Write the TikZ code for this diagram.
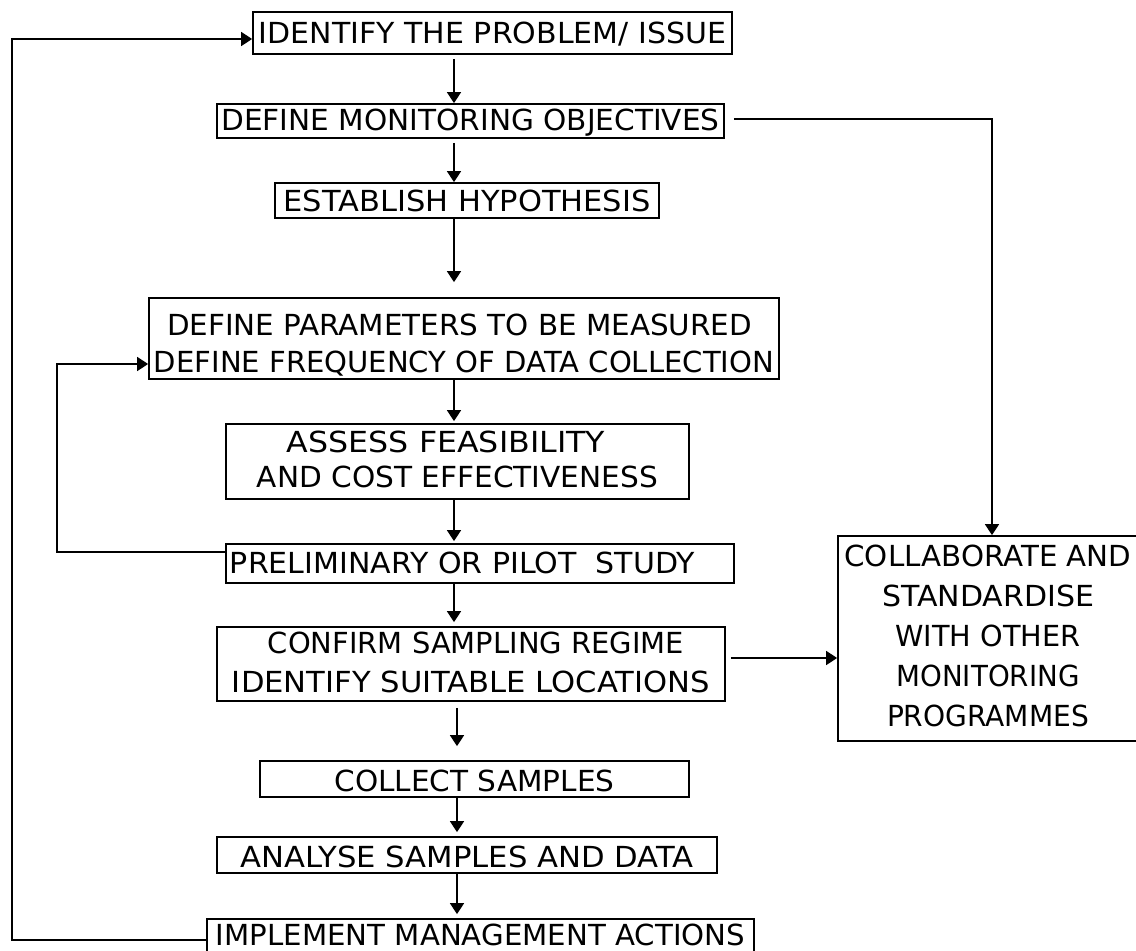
\documentclass[tikz,border=0pt]{standalone}
\usepackage{fontspec}
\setmainfont{DejaVu Sans}
\usepackage{graphicx}
\usetikzlibrary{arrows.meta}
\newcommand\fitw[2]{\resizebox{#1}{\height}{#2}}
\newcommand\stk[2]{\vtop{\baselineskip=#1\relax\lineskiplimit=-100pt\halign{\hfil##\hfil\cr#2\crcr}}}
\begin{document}
\begin{tikzpicture}[x=1pt,y=-1pt,
  box/.style={draw, line width=1.8pt, inner sep=0pt, font=\fontsize{29}{34}\selectfont},
  conn/.style={line width=1.8pt, -{Triangle[width=14pt,length=11pt]}}]
\fill[white] (0,0) rectangle (1136,951);
\useasboundingbox (0,0) rectangle (1136,951);

\node[box, minimum width=479pt, minimum height=42pt, text height=20pt, text depth=0pt] (b1) at (492.5,33) {\fitw{467pt}{IDENTIFY THE PROBLEM/ ISSUE}};
\node[box, minimum width=507pt, minimum height=34pt, text height=18pt, text depth=0pt] (b2) at (470.5,121) {\fitw{498pt}{DEFINE MONITORING OBJECTIVES}};
\node[box, minimum width=384pt, minimum height=35pt, text height=21pt, text depth=0pt] (b3) at (467,200.5) {\fitw{367pt}{ESTABLISH HYPOTHESIS}};
\node[box, minimum width=630pt, minimum height=81pt, text height=0pt, text depth=7pt] (b4) at (464,338.5) {\stk{37pt}{\fitw{585pt}{DEFINE PARAMETERS TO BE MEASURED}\kern9pt\cr\fitw{620pt}{DEFINE FREQUENCY OF DATA COLLECTION}}};
\node[box, minimum width=463pt, minimum height=75pt, text height=0pt, text depth=18pt] (b5) at (457.5,461.5) {\stk{34.5pt}{\fitw{318pt}{ASSESS FEASIBILITY}\kern23pt\cr\fitw{401pt}{AND COST EFFECTIVENESS}}};
\node[box, minimum width=508pt, minimum height=39pt, text height=19pt, text depth=0pt] (b6) at (480,563.5) {\fitw{465pt}{PRELIMINARY OR PILOT~ STUDY}\kern35pt};
\node[box, minimum width=508pt, minimum height=74pt, text height=0pt, text depth=22pt] (b7) at (471,664) {\stk{39pt}{\kern10pt\fitw{416pt}{CONFIRM SAMPLING REGIME}\cr\fitw{478pt}{IDENTIFY SUITABLE LOCATIONS}}};
\node[box, minimum width=429pt, minimum height=36pt, text height=24pt, text depth=0pt] (b8) at (474.5,779) {\fitw{280pt}{COLLECT SAMPLES}};
\node[box, minimum width=500pt, minimum height=36pt, text height=24pt, text depth=0pt] (b9) at (467,855) {\fitw{453pt}{ANALYSE SAMPLES AND DATA}};
\node[box, minimum width=547pt, minimum height=37pt, text height=15pt, text depth=0pt] (b10) at (480.5,937.5) {\fitw{529pt}{IMPLEMENT MANAGEMENT ACTIONS}};
\node[box, minimum width=300pt, minimum height=205pt, text height=0pt, text depth=145pt] (col) at (988,638.5) {\stk{40pt}{\fitw{287pt}{COLLABORATE AND}\cr\fitw{212pt}{STANDARDISE}\cr\fitw{185pt}{WITH OTHER}\cr\fitw{183pt}{MONITORING}\cr\fitw{202pt}{PROGRAMMES}}};

\coordinate (c1) at (454,0);
\coordinate (c2) at (457,0);
\draw[conn, shorten <=4pt] (b1.south -| c1) -- (b2.north -| c1);
\draw[conn, shorten <=4pt] (b2.south -| c1) -- (b3.north -| c1);
\draw[conn, shorten >=15pt] (b3.south -| c1) -- (b4.north -| c1);
\draw[conn, shorten >=2pt] (b4.south -| c1) -- (b5.north -| c1);
\draw[conn, shorten >=2pt] (b5.south -| c1) -- (b6.north -| c1);
\draw[conn, shorten >=4pt] (b6.south -| c1) -- (b7.north -| c1);
\draw[conn, shorten <=6pt, shorten >=14pt] (b7.south -| c2) -- (b8.north -| c2);
\draw[conn, shorten >=4pt] (b8.south -| c2) -- (b9.north -| c2);
\draw[conn, shorten >=4pt] (b9.south -| c2) -- (b10.north -| c2);

\coordinate (rt) at (992,119);
\draw[conn, shorten <=9pt] (b2.east |- rt) -- (rt) -- (col.north -| rt);
\coordinate (r7) at (0,658);
\draw[conn, shorten <=5pt] (b7.east |- r7) -- (col.west |- r7);
\coordinate (lb) at (57,552);
\coordinate (lt) at (57,364);
\draw[conn] (b6.west |- lb) -- (lb) -- (lt) -- (b4.west |- lt);
\coordinate (fb) at (12,940);
\coordinate (ft) at (12,39);
\draw[conn] (b10.west |- fb) -- (fb) -- (ft) -- (b1.west |- ft);
\end{tikzpicture}
\end{document}
